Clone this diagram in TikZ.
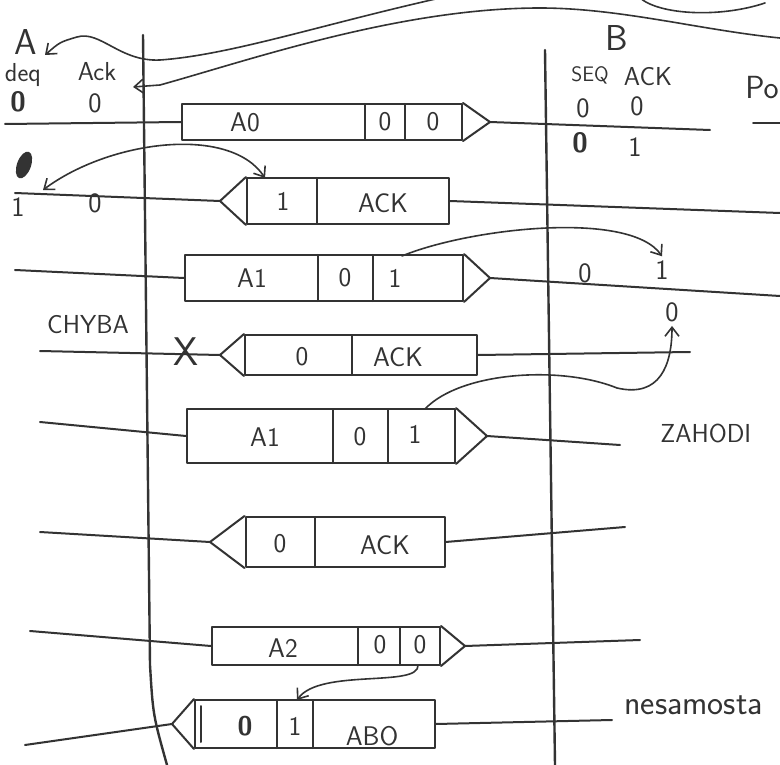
\documentclass[tikz,border=0pt]{standalone}
\usepackage{fontspec}
\usetikzlibrary{positioning,arrows.meta,calc}
\begin{document}
\begin{tikzpicture}[x=1pt, y=-1pt, line width=2pt, line cap=round, line join=round,
    color=black!80, font=\sffamily\fontsize{26}{28}\selectfont,
    >={Straight Barb[length=9pt,width=14pt]},
    frame/.style={draw, inner sep=0},
    fld/.style={font=\sffamily\fontsize{27}{29}\selectfont},
    big/.style={font=\sffamily\fontsize{36}{40}\selectfont},
    state/.style={font=\sffamily\fontsize{28}{30}\selectfont},
    small/.style={font=\sffamily\fontsize{21}{23}\selectfont},
    axis/.style={line width=2.4pt},
    note/.style={->, line width=1.6pt}]
  \useasboundingbox[fill=white] (0,0) rectangle (780,765);

  % time lines
  \coordinate (At) at (143,35);
  \coordinate (Am) at (150,665);
  \coordinate (Ab) at (167,765);
  \coordinate (Bt) at (545,50);
  \coordinate (Bb) at (555,765);
  \draw[axis] (At) -- (Am) .. controls (153,715) .. (Ab);
  \draw[axis] (Bt) -- (Bb);

  % stations and their state
  \node[big] (A) at (26,42) {A};
  \node[big] (B) at (617,38) {B};
  \node (seqA) at (23,75) {deq};
  \node (ackA) at (97,72) {Ack};
  \node[small] (seqB) at (590,75) {SEQ};
  \node (ackB) at (648,77) {ACK};
  \node[anchor=west, font=\sffamily\fontsize{32}{34}\selectfont] (po) at (741,88) {Po};
  \node[state] (a0s) at (18,102) {\textbf{0}};
  \node[state] (a0a) at (95,103) {0};
  \node[state] (a1s) at (18,207) {1};
  \node[state] (a1a) at (95,203) {0};
  \fill[rotate around={-20:(24,165)}] (24,165) ellipse (7 and 14);
  \node[state] (b0s) at (583,108) {0};
  \node[state] (b0a) at (637,106) {0};
  \node[state] (b1s) at (580,143) {\textbf{0}};
  \node[state] (b1a) at (635,147) {1};
  \node[state] (b3s) at (585,273) {0};
  \node[state] (b3a) at (662,270) {1};
  \node[state] (b4a) at (672,312) {0};
  \node (err) at (88,325) {CHYBA};
  \node[anchor=west] (drop) at (656,433) {ZAHODI};
  \node[anchor=west, font=\sffamily\fontsize{34}{36}\selectfont] (rest) at (620,705) {nesamosta};

  % notes on top
  \coordinate (n1a) at (440,-2);
  \coordinate (n1b) at (45,55);
  \coordinate (n2a) at (780,38);
  \coordinate (n2b) at (133,87);
  \coordinate (n3a) at (640,-2);
  \coordinate (n3b) at (765,3);
  \coordinate (u1) at (753,123);
  \coordinate (u2) at (780,123);
  \draw[note] (n1a) .. controls (320,25) and (230,55) .. (160,60)
    .. controls (120,62) and (100,30) .. (77,37) .. controls (60,42) .. (n1b);
  \draw[note] (n2a) .. controls (700,30) and (620,8) .. (540,8)
    .. controls (400,8) and (250,60) .. (160,85) -- (n2b);
  \draw[line width=1.6pt] (n3a) .. controls (660,15) and (720,18) .. (n3b);
  \draw (u1) -- (u2);

  % frame 1: A0|0|0
  \node[frame, minimum width=280, minimum height=36] (f1) at (322,122) {};
  \coordinate (h1) at (490,122);
  \draw (f1.north east) -- (h1) -- (f1.south east);
  \draw (365,104) -- (365,140) (405,104) -- (405,140);
  \node[fld] at (245,122) {A0};
  \node[fld] at (385,122) {0};
  \node[fld] at (433,122) {0};
  \coordinate (w1a) at (5,124);
  \coordinate (w1b) at (710,130);
  \draw (w1a) -- (f1.west);
  \draw (h1) -- (w1b);

  % frame 2: 1|ACK
  \node[frame, minimum width=202, minimum height=46] (f2) at (348,201) {};
  \coordinate (h2) at (220,201);
  \draw (f2.north west) -- (h2) -- (f2.south west);
  \draw (317,178) -- (317,224);
  \node[fld] at (283,201) {1};
  \node[fld] at (383,203) {ACK};
  \coordinate (w2a) at (15,193);
  \coordinate (w2b) at (780,213);
  \draw (w2a) -- (h2);
  \draw (f2.east) -- (w2b);
  \coordinate (k2a) at (43,190);
  \coordinate (k2b) at (265,178);
  \draw[note, <->] (k2a) .. controls (110,140) and (230,125) .. (k2b);

  % frame 3: A1|0|1
  \node[frame, minimum width=278, minimum height=46] (f3) at (324,278) {};
  \coordinate (h3) at (490,278);
  \draw (f3.north east) -- (h3) -- (f3.south east);
  \draw (318,255) -- (318,301) (373,255) -- (373,301);
  \node[fld] at (252,278) {A1};
  \node[fld] at (345,278) {0};
  \node[fld] at (395,278) {1};
  \coordinate (w3a) at (15,270);
  \coordinate (w3b) at (780,296);
  \draw (w3a) -- (f3.west);
  \draw (h3) -- (w3b);
  \coordinate (k3a) at (402,256);
  \draw[note] (k3a) .. controls (470,228) and (630,210) .. (b3a.north);

  % frame 4: 0|ACK (lost)
  \node[frame, minimum width=232, minimum height=40] (f4) at (361,355) {};
  \coordinate (h4) at (220,355);
  \draw (f4.north west) -- (h4) -- (f4.south west);
  \draw (352,335) -- (352,375);
  \node[fld] at (302,357) {0};
  \node[fld] at (398,357) {ACK};
  \coordinate (w4a) at (40,351);
  \coordinate (w4b) at (690,352);
  \draw (w4a) -- (h4);
  \draw (f4.east) -- (w4b);
  \node[font=\sffamily\fontsize{40}{42}\selectfont] (lost) at (186,352) {X};

  % frame 5: A1|0|1 again
  \node[frame, minimum width=268, minimum height=54] (f5) at (321,436) {};
  \coordinate (h5) at (487,436);
  \draw (f5.north east) -- (h5) -- (f5.south east);
  \draw (333,409) -- (333,463) (388,409) -- (388,463);
  \node[fld] at (265,437) {A1};
  \node[fld] at (360,437) {0};
  \node[fld] at (415,434) {1};
  \coordinate (w5a) at (40,422);
  \coordinate (w5b) at (620,445);
  \draw (w5a) -- (f5.west);
  \draw (h5) -- (w5b);
  \coordinate (k5a) at (425,409);
  \draw[note] (k5a) .. controls (460,372) and (560,365) .. (617,388)
    .. controls (660,398) and (672,365) .. (b4a.south);

  % frame 6: 0|ACK
  \node[frame, minimum width=199, minimum height=50] (f6) at (345,542) {};
  \coordinate (h6) at (210,542);
  \draw (f6.north west) -- (h6) -- (f6.south west);
  \draw (315,517) -- (315,567);
  \node[fld] at (280,544) {0};
  \node[fld] at (385,545) {ACK};
  \coordinate (w6a) at (40,532);
  \coordinate (w6b) at (625,527);
  \draw (w6a) -- (h6);
  \draw (f6.east) -- (w6b);

  % frame 7: A2|0|0
  \node[frame, minimum width=228, minimum height=38] (f7) at (326,646) {};
  \coordinate (h7) at (465,646);
  \draw (f7.north east) -- (h7) -- (f7.south east);
  \draw (358,627) -- (358,665) (400,627) -- (400,665);
  \node[fld] at (283,648) {A2};
  \node[fld] at (380,645) {0};
  \node[fld] at (420,645) {0};
  \coordinate (w7a) at (30,631);
  \coordinate (w7b) at (640,640);
  \draw (w7a) -- (f7.west);
  \draw (h7) -- (w7b);

  % frame 8: 0|1|ABO
  \node[frame, minimum width=240, minimum height=48] (f8) at (315,724) {};
  \coordinate (h8) at (172,724);
  \draw (f8.north west) -- (h8) -- (f8.south west);
  \draw (201,706) -- (201,742);
  \draw (277,700) -- (277,748) (313,700) -- (313,748);
  \node[fld] at (245,726) {\textbf{0}};
  \node[fld] at (295,726) {1};
  \node[fld] at (372,736) {ABO};
  \coordinate (w8a) at (25,745);
  \coordinate (w8b) at (612,720);
  \draw (w8a) -- (h8);
  \draw (f8.east) -- (w8b);
  \coordinate (k7a) at (418,665);
  \coordinate (k7b) at (297,700);
  \draw[note] (k7a) .. controls (420,688) and (320,668) .. (k7b);
\end{tikzpicture}
\end{document}
